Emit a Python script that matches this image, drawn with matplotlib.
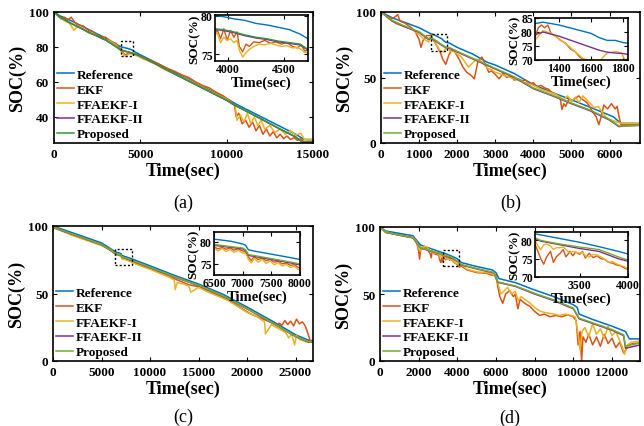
import matplotlib
matplotlib.use("Agg")
import matplotlib.pyplot as plt
from matplotlib.patches import Rectangle

plt.rcParams['font.family'] = ['Liberation Serif', 'DejaVu Serif']
plt.rcParams['font.weight'] = 'bold'

# ---------------- data ----------------
labels = ['Reference', 'EKF', 'FFAEKF-I', 'FFAEKF-II', 'Proposed']
colors = ['#0072BD', '#D95319', '#EDB120', '#7E2F8E', '#77AC30']

# panel (a)
ta_ref = [0, 300, 1000, 2000, 3000, 3880, 4200, 4500, 4720, 5000, 6000, 7000, 8000, 9000,
          10000, 10500, 11000, 12000, 13000, 14000, 14500, 15000]
ref_a = [100, 98, 95, 90, 85, 80, 79.3, 78.4, 77, 75.5, 70.5, 65.5, 60.5, 55.5,
         50.5, 47.5, 45, 40, 35, 30, 27, 27]
ta_prop = [0, 300, 1000, 2000, 3000, 3880, 4200, 4500, 4720, 5000, 6000, 7000, 8000, 9000,
           10000, 10500, 11000, 12000, 13000, 14000, 14400, 15000]
prop_a = [100, 97.5, 93.5, 88.5, 84, 78.3, 77.4, 76.6, 76, 74.8, 69.8, 64.5, 59.5, 54.5,
          49.5, 46.5, 44, 38.8, 33.5, 28.5, 25.5, 25.5]
ff2_a = [100, 97.4, 93.4, 88.4, 83.9, 78.2, 77.3, 76.5, 75.9, 74.7, 69.7, 64.4, 59.4, 54.4,
         49.4, 46.4, 43.9, 38.7, 33.4, 28.4, 25.4, 25.4]
ta_ekf = [0, 200, 400, 600, 800, 1000, 1200, 1400, 1700, 2000, 2300, 2600, 3000, 3300, 3600,
          3880, 4120, 4400, 4720, 5000, 5400, 5800, 6200, 6600, 7000, 7400, 7800, 8200, 8600,
          9000, 9400, 9800, 10200, 10450, 10550, 10700, 10900, 11100, 11300, 11500, 11700,
          11900, 12100, 12300, 12500, 12700, 12900, 13100, 13300, 13500, 13700, 13900, 14100,
          14300, 14500, 14700, 15000]
ekf_a = [100, 98.5, 96, 97, 95.5, 97, 94, 92.5, 92, 89.5, 88.5, 86, 85.5, 83, 82,
         78, 75.5, 76.5, 75.5, 75, 73, 71.5, 69.5, 67.5, 66, 64, 62.5, 60, 58,
         56.5, 54, 52, 49, 47, 40, 42, 36, 38, 34, 37, 32,
         35, 30, 33, 29, 31.5, 28, 30, 27.5, 29, 27, 28, 26.5,
         27.5, 25.5, 26, 26]
ta_ff1 = [0, 300, 600, 900, 1150, 1400, 1700, 2000, 2400, 2800, 3200, 3600, 3880, 4120, 4400,
          4720, 5200, 5800, 6400, 7000, 7600, 8200, 8800, 9400, 10000, 10500, 10600, 10800,
          11000, 11200, 11400, 11600, 11800, 12000, 12200, 12500, 12800, 13100, 13400, 13700,
          14000, 14300, 14500, 15000]
ff1_a = [100, 97, 95, 93.5, 89.5, 92, 90.5, 88, 87, 84.5, 83.5, 81, 77.5, 74.6, 76.2,
         75.2, 73, 70.5, 67, 64.5, 62, 59, 56, 53, 50, 46, 38, 41,
         37, 42, 36, 40, 35, 38, 33, 35, 31, 33, 30, 32,
         29.5, 30.5, 27, 27]
# inset (a)
ia_t = [3880, 3950, 4050, 4150, 4250, 4350, 4450, 4550, 4650, 4720]
ia_ref = [80, 79.9, 79.6, 79.4, 79.0, 78.8, 78.5, 78.2, 77.6, 77.0]
ia_prop = [78.3, 78.2, 77.9, 77.5, 77.2, 77.0, 76.7, 76.5, 76.3, 75.6]
ia_ff2 = [78.2, 78.1, 77.8, 77.4, 77.1, 76.9, 76.6, 76.4, 76.2, 75.5]
ia_t_ekf = [3880, 3900, 3930, 3960, 3990, 4020, 4050, 4080, 4100, 4130, 4160, 4190, 4230,
            4280, 4330, 4380, 4430, 4480, 4530, 4580, 4620, 4660, 4690, 4720]
ia_ekf = [77.5, 78.2, 77.0, 78.3, 76.8, 78.1, 77.2, 77.9, 76.0, 75.3, 76.3, 76.0, 76.6,
          76.5, 76.8, 76.4, 76.6, 76.3, 76.5, 76.0, 75.8, 76.2, 75.4, 75.5]
ia_ff1 = [77.5, 77.8, 76.5, 77.2, 76.8, 77.0, 76.5, 76.8, 75.5, 74.6, 75.2, 75.6, 76.0,
          76.3, 76.2, 76.4, 76.2, 76.0, 76.1, 75.8, 75.9, 75.6, 75.2, 75.2]

# panel (b)
tb_ref = [0, 300, 630, 1000, 1300, 1400, 1500, 1600, 1650, 1700, 1800, 2000, 2400, 2800,
          3000, 3500, 4000, 4500, 5000, 5600, 6100, 6300, 6800]
ref_b = [100, 95.5, 92, 88, 83.5, 82.5, 81, 79.5, 78, 77, 76.2, 73, 68, 61.5,
         59.5, 53, 44.5, 38.5, 33, 26, 20, 15, 15]
tb_prop = [0, 300, 600, 1000, 1250, 1300, 1400, 1500, 1600, 1700, 1800, 2000, 2500, 3000,
           3500, 4000, 4500, 5000, 5500, 6000, 6250, 6350, 6800]
prop_b = [100, 93.5, 89.5, 85, 79.5, 80.5, 79, 77, 75, 73.3, 72.8, 70, 63.5, 57,
          50.5, 42, 36.5, 30.5, 25, 18, 13, 13, 13.5]
ff2_b = [100, 93, 89, 84.5, 79, 80, 78.5, 76.5, 74.5, 72.8, 72.3, 69.5, 63, 56.5,
         50, 41.5, 36, 30, 24.5, 17.5, 12.5, 13, 13.5]
tb_ekf = [0, 100, 200, 300, 400, 440, 500, 600, 700, 800, 900, 1000, 1050, 1100, 1200, 1280,
          1320, 1350, 1400, 1450, 1480, 1520, 1560, 1620, 1700, 1780, 1860, 1950, 2050, 2150,
          2250, 2350, 2450, 2500, 2550, 2650, 2740, 2830, 2900, 3000, 3100, 3200, 3300, 3400,
          3500, 3600, 3700, 3800, 3900, 4000, 4100, 4200, 4300, 4400, 4500, 4600, 4700, 4750,
          4800, 4850, 4930, 5000, 5100, 5190, 5300, 5400, 5460, 5550, 5650, 5720, 5780, 5850,
          5950, 6050, 6150, 6200, 6250, 6300, 6800]
ekf_b = [100, 98, 96, 95, 97, 98, 93, 92, 90, 88, 85, 79, 73, 78, 82, 82,
         82.5, 79.5, 77.5, 75, 73.5, 71, 69, 64, 60, 67, 71.6, 69, 64, 58,
         54, 52, 49, 56, 63, 65.6, 60, 54, 55, 52.4, 49, 53, 50, 51,
         48, 49, 47.6, 48, 45, 46, 43, 44, 42, 41, 38, 37, 35, 25.6,
         30, 28, 33.5, 32, 34, 36, 33, 31, 28.7, 24, 20, 14, 20, 29,
         26, 30, 26, 28, 20, 14, 14.5]
tb_ff1 = [0, 200, 400, 600, 800, 1000, 1100, 1250, 1300, 1350, 1400, 1450, 1500, 1550, 1580,
          1650, 1700, 1750, 1790, 1810, 1900, 2000, 2100, 2200, 2300, 2400, 2500, 2600, 2700,
          2800, 2900, 3000, 3200, 3400, 3600, 3800, 4000, 4200, 4400, 4600, 4800, 4900, 5000,
          5100, 5200, 5300, 5400, 5500, 5600, 5700, 5800, 5900, 6000, 6100, 6200, 6300, 6800]
ff1_b = [100, 95, 91, 89, 87, 83, 80, 77, 80.5, 79.5, 77.5, 75.5, 73, 70.5, 70,
         69.5, 72.5, 73, 72.5, 70, 70, 68, 66, 62, 58, 61, 64, 63, 60,
         57, 56, 54, 52, 50, 48, 46, 44, 41, 39, 37, 33, 36, 32,
         35, 31, 36, 33, 30, 27, 28, 24, 20, 18, 17, 16, 15, 15]
# inset (b)
ib_t = [1250, 1300, 1400, 1500, 1600, 1650, 1700, 1750, 1800, 1830]
ib_ref = [83, 83.5, 82.5, 81, 79.5, 78, 77, 77, 76.2, 76]
ib_ff2 = [79, 80, 78.5, 76.5, 74.5, 73.5, 72.8, 72.5, 72.3, 72]
ib_t_ekf = [1250, 1270, 1290, 1310, 1330, 1350, 1380, 1410, 1440, 1470, 1500, 1530, 1560,
            1600, 1650, 1700, 1760, 1800, 1830]
ib_ekf = [78, 81.5, 82.5, 81.5, 82.5, 79.5, 78.5, 77, 76, 74, 73, 71, 70, 68, 64, 61, 66, 69, 70.5]
ib_t_ff1 = [1250, 1300, 1350, 1400, 1450, 1500, 1550, 1580, 1620, 1650, 1700, 1750, 1790,
            1810, 1830]
ib_ff1 = [77, 80.5, 79.5, 77.5, 75.5, 73, 70.5, 70, 70, 69.5, 72.5, 73, 72.5, 70, 70.5]

# panel (c)
tc_ref = [0, 2000, 5000, 6500, 6800, 7000, 7050, 7100, 7200, 7500, 7800, 8000, 10000, 12500,
          15000, 17500, 20000, 22500, 25000, 26300, 26800]
ref_c = [100, 95, 87.5, 80.6, 80.1, 79.5, 79.2, 78.2, 77.9, 77.2, 76.5, 76, 70.5, 63.5,
         57, 49.5, 40, 30, 19.5, 15.5, 15]
prop_c = [99, 94, 86.3, 79.4, 78.9, 78.6, 78.2, 77.1, 76.9, 76.2, 75.4, 75, 69.3, 62.5,
          56, 48.3, 38.8, 28.8, 18.3, 14.3, 14.2]
ff2_c = [98.8, 93.8, 86.1, 79.2, 78.7, 78.4, 78.0, 76.9, 76.7, 76.0, 75.2, 74.8, 69.1, 62.3,
         55.8, 48.1, 38.6, 28.6, 18.1, 14.1, 14.0]
tc_ekf = [0, 1000, 2000, 3000, 4000, 5000, 6000, 6500, 7000, 7100, 7150, 7200, 7400, 7600,
          8000, 9000, 10000, 11000, 12000, 13000, 14000, 15000, 16000, 17000, 18000, 19000,
          20000, 20500, 21000, 22000, 22500, 23000, 23300, 23600, 23900, 24200, 24500, 24800,
          25100, 25400, 25700, 26000, 26200, 26500, 26800]
ekf_c = [100, 96.5, 93.5, 91, 88.5, 86, 82.5, 78.8, 78, 76.5, 75.8, 76.4, 75.7, 75.1,
         74, 71, 68.5, 65.5, 62.5, 59.5, 56.5, 55, 52, 48.5, 45.5, 41,
         36.5, 34.5, 33, 30, 28.5, 27, 28, 26.5, 30, 27, 29.5, 26,
         31, 27.5, 29, 26, 22, 15, 14.5]
tc_ff1 = [0, 1000, 2000, 3000, 4000, 5000, 6000, 6500, 7000, 7100, 7150, 7200, 7500, 8000,
          9000, 10000, 11000, 12000, 12500, 12600, 12800, 13500, 14000, 14200, 15000, 16000,
          17000, 18000, 19000, 20000, 21000, 21800, 21900, 22500, 23000, 23500, 24000, 24300,
          24600, 24900, 25100, 25400, 25800, 26200, 26800]
ff1_c = [99.5, 96, 93, 90.5, 88, 85.5, 82, 78.6, 77.8, 76, 75.2, 76, 75, 73.6,
         70.5, 68, 65, 62, 60, 53, 58, 57, 55.5, 51, 54.5, 51,
         48, 45, 40.5, 36, 33, 29, 20, 27, 25, 23, 21, 17,
         20, 12, 19, 16, 15, 14, 14]
# inset (c)
ic_t = [6500, 6800, 7000, 7050, 7100, 7200, 7500, 7800, 8000]
ic_ref = [80.6, 80.1, 79.5, 79.2, 78.2, 77.9, 77.2, 76.5, 76.0]
ic_prop = [79.4, 78.9, 78.6, 78.2, 77.1, 76.9, 76.2, 75.5, 75.0]
ic_ff2 = [79.2, 78.7, 78.4, 78.0, 76.9, 76.7, 76.0, 75.3, 74.8]
ic_t_n = [6500, 6570, 6640, 6710, 6780, 6850, 6920, 6990, 7060, 7100, 7150, 7200, 7270,
          7340, 7410, 7480, 7550, 7620, 7690, 7760, 7830, 7900, 7960, 8000]
ic_ekf = [78.8, 78.4, 78.7, 78.3, 78.6, 78.1, 78.4, 78.0, 77.6, 76.5, 75.8, 76.6, 76.0,
          76.3, 75.7, 76.0, 75.4, 75.6, 75.0, 75.2, 74.7, 74.8, 74.3, 74.0]
ic_ff1 = [78.6, 77.9, 78.5, 77.8, 78.3, 77.6, 78.1, 77.5, 77.3, 76.0, 75.2, 76.3, 75.4,
          76.0, 75.1, 75.7, 74.8, 75.3, 74.5, 74.9, 74.2, 74.5, 73.8, 73.6]

# panel (d)
td_ref = [0, 300, 1700, 1900, 2100, 2800, 3040, 3300, 3500, 3700, 3900, 4000, 4200, 5000,
          5800, 6000, 6150, 7000, 8000, 9000, 10000, 10200, 10300, 11000, 12000, 12700,
          12900, 13450]
ref_d = [100, 97, 93.5, 90, 86.5, 83, 81.8, 80.5, 79.5, 78.3, 77, 76.3, 73.5, 70.5,
         68, 66, 61.5, 58.5, 53, 48, 42, 40, 35, 31, 26, 22,
         16.5, 16.5]
td_prop = [0, 300, 1700, 1900, 2100, 2800, 3040, 3300, 3500, 3700, 3900, 4000, 4200, 5000,
           5900, 6100, 7000, 8000, 9000, 10000, 10300, 11000, 12000, 12600, 12700, 13450]
prop_d = [100, 96, 92, 88.5, 84.5, 81.5, 80.7, 79, 78.2, 77.5, 75.5, 74.6, 72, 69,
          66, 59, 56, 50.5, 45.5, 39.5, 32, 28.5, 23.5, 19.5, 11, 13.5]
ff2_d = [100, 96, 92, 88.3, 84.3, 81.2, 80.5, 78.8, 77.8, 77, 75, 74.3, 71.7, 68.7,
         65.7, 58.7, 55.7, 50, 45, 39, 31.5, 28, 23, 19, 9.5, 12]
td_ekf = [0, 300, 800, 1300, 1700, 1900, 2000, 2050, 2100, 2200, 2400, 2600, 2650, 2700,
          2800, 3040, 3100, 3150, 3200, 3250, 3300, 3350, 3400, 3450, 3500, 3550, 3600, 3650,
          3700, 3750, 3800, 3850, 3900, 3950, 4000, 4100, 4200, 4500, 5000, 5500, 5800, 6000,
          6100, 6200, 6350, 6500, 6700, 6900, 7000, 7130, 7250, 7400, 7600, 7740, 8000, 8260,
          8500, 8800, 9100, 9400, 9700, 10000, 10150, 10250, 10350, 10430, 10500, 10650,
          10800, 11000, 11200, 11400, 11600, 11800, 12000, 12200, 12400, 12600, 12700, 12850,
          13100, 13450]
ekf_d = [100, 96, 94.5, 93, 92, 88, 82, 76, 83, 84, 84.5, 80, 77, 82,
         80, 79, 75, 73.5, 77, 74, 76.5, 77.5, 75.5, 77, 76.2, 77, 75.2, 76.5,
         75.5, 75, 74, 73.3, 73, 72.5, 72, 70, 71, 68, 66, 65.5, 64, 64,
         55, 48, 43, 50, 52.5, 48, 50, 39, 46, 44, 42, 41, 37, 34,
         35, 33, 34, 33, 34.5, 33, 30, 12, 22, 0, 18, 14,
         20, 12, 18, 11, 20, 13, 17, 10, 14, 6, 8, 12,
         13, 13.5]
td_ff1 = [0, 300, 800, 1300, 1700, 1900, 2000, 2100, 2200, 2400, 2600, 2700, 2800, 3040,
          3100, 3150, 3200, 3250, 3300, 3350, 3400, 3500, 3600, 3700, 3800, 3900, 4000, 4100,
          4200, 4500, 5000, 5500, 5800, 5950, 6100, 6250, 6400, 6600, 6800, 7000, 7150, 7300,
          7500, 7700, 8000, 8300, 8600, 9000, 9300, 9600, 9900, 10100, 10250, 10350, 10450,
          10600, 10800, 11000, 11200, 11400, 11600, 11800, 12000, 12200, 12400, 12550, 12650,
          12800, 13000, 13450]
ff1_d = [100, 96.5, 94.5, 93, 92.5, 89, 84, 82, 85, 85.5, 82, 81, 80.5, 80,
         77.5, 78.8, 78.5, 77.5, 78, 78.2, 76.5, 76.5, 75.5, 76, 74, 73.2, 72.3, 71,
         72, 68.5, 66.5, 66, 65, 63, 58, 50, 52, 55, 50, 52, 45, 48,
         46, 44, 40, 37, 36, 35, 34, 35, 34, 33, 20, 8, 22,
         25, 18, 28, 20, 24, 17, 26, 19, 22, 15, 10, 5,
         12, 14, 15]
# inset (d)
id_t = [3040, 3100, 3300, 3500, 3700, 3900, 4000]
id_ref = [81.8, 81.5, 80.5, 79.5, 78.3, 77.0, 76.3]
id_prop = [80.7, 80.0, 79.0, 78.2, 77.5, 75.5, 74.6]
id_ff2 = [80.5, 79.8, 78.8, 77.8, 77.0, 75.0, 74.3]
id_t_n = [3040, 3070, 3100, 3130, 3160, 3200, 3230, 3260, 3300, 3330, 3360, 3400, 3430,
          3460, 3500, 3530, 3560, 3600, 3640, 3680, 3720, 3760, 3800, 3840, 3880, 3920,
          3960, 4000]
id_ekf = [79, 77, 75, 73.5, 75.5, 77, 74, 75.5, 76.5, 77.5, 75.5, 77, 75.8, 76.8,
          76.2, 77, 75.2, 76.5, 75.3, 75.8, 75, 74.8, 74, 73.8, 73.3, 73.1, 72.5, 72]
id_ff1 = [80, 78.5, 77.5, 78.8, 79, 78.5, 77.5, 78, 78, 78.2, 77.5, 76.5, 77, 76.8,
          76.5, 76.8, 75.8, 75.5, 76.2, 76, 75.5, 74.8, 74, 74.2, 73.6, 73.2, 72.8, 72.3]

# ---------------- drawing ----------------
W, H = 644, 427


def rect(x0, y0, x1, y1):
    return [x0 / W, 1 - y1 / H, (x1 - x0) / W, (y1 - y0) / H]


def style_axes(ax, size):
    ax.tick_params(direction='in', top=True, right=True, labelsize=size, width=0.8, length=3)
    for s in ax.spines.values():
        s.set_linewidth(1.2)
    for lb in ax.get_xticklabels() + ax.get_yticklabels():
        lb.set_fontweight('bold')


fig = plt.figure(figsize=(W / 100, H / 100), dpi=100)

panels = [
    dict(main=rect(54, 13, 313, 144), ins=rect(215, 16, 308, 62), cap='(a)', cap_xy=(183, 203),
         series=[(ta_ref, ref_a), (ta_ekf, ekf_a), (ta_ff1, ff1_a), (ta_prop, ff2_a), (ta_prop, prop_a)],
         inset=[(ia_t, ia_ref), (ia_t_ekf, ia_ekf), (ia_t_ekf, ia_ff1), (ia_t, ia_ff2), (ia_t, ia_prop)],
         xlim=(0, 15000), ylim=(25, 100), xt=[0, 5000, 10000, 15000], yt=[40, 60, 80, 100],
         ixlim=(3880, 4720), iylim=(74.1, 80.1), ixt=[4000, 4500], iyt=[75, 80],
         box=(3870, 4580, 75, 83.5), green='#2E9A36'),
    dict(main=rect(381, 13, 640, 144), ins=rect(535, 19, 628, 61), cap='(b)', cap_xy=(511, 203),
         series=[(tb_ref, ref_b), (tb_ekf, ekf_b), (tb_ff1, ff1_b), (tb_prop, ff2_b), (tb_prop, prop_b)],
         inset=[(ib_t, ib_ref), (ib_t_ekf, ib_ekf), (ib_t_ff1, ib_ff1), (ib_t, ib_ff2), None],
         xlim=(0, 6800), ylim=(0, 100), xt=list(range(0, 7000, 1000)), yt=[0, 50, 100],
         ixlim=(1250, 1830), iylim=(70, 85), ixt=[1400, 1600, 1800], iyt=[70, 75, 80, 85],
         box=(1316, 1728, 70, 83), green='#77AC30'),
    dict(main=rect(53, 227, 313, 362), ins=rect(214, 233, 300, 276), cap='(c)', cap_xy=(183, 417),
         series=[(tc_ref, ref_c), (tc_ekf, ekf_c), (tc_ff1, ff1_c), (tc_ref, ff2_c), (tc_ref, prop_c)],
         inset=[(ic_t, ic_ref), (ic_t_n, ic_ekf), (ic_t_n, ic_ff1), (ic_t, ic_ff2), (ic_t, ic_prop)],
         xlim=(0, 26800), ylim=(0, 100), xt=list(range(0, 30000, 5000)), yt=[0, 50, 100],
         ixlim=(6500, 8000), iylim=(72.5, 82.2), ixt=[6500, 7000, 7500, 8000], iyt=[75, 80],
         box=(6440, 8150, 71.2, 82.6), green='#77AC30'),
    dict(main=rect(380, 228, 640, 362), ins=rect(535, 233, 628, 278), cap='(d)', cap_xy=(510, 418),
         series=[(td_ref, ref_d), (td_ekf, ekf_d), (td_ff1, ff1_d), (td_prop, ff2_d), (td_prop, prop_d)],
         inset=[(id_t, id_ref), (id_t_n, id_ekf), (id_t_n, id_ff1), (id_t, id_ff2), (id_t, id_prop)],
         xlim=(0, 13450), ylim=(0, 100), xt=list(range(0, 14000, 2000)), yt=[0, 50, 100],
         ixlim=(3040, 4000), iylim=(70, 82.3), ixt=[3500, 4000], iyt=[70, 75, 80],
         box=(3250, 4090, 71, 82.5), green='#77AC30'),
]

for p in panels:
    cols = colors[:4] + [p['green']]
    ax = fig.add_axes(p['main'])
    handles = []
    for (t, v), c, lab in zip(p['series'], cols, labels):
        h, = ax.plot(t, v, color=c, lw=1.1, label=lab)
        handles.append(h)
    ax.set_xlim(*p['xlim'])
    ax.set_ylim(*p['ylim'])
    ax.set_xticks(p['xt'])
    ax.set_yticks(p['yt'])
    ax.set_xlabel('Time(sec)', fontsize=13, fontweight='bold', labelpad=1)
    ax.set_ylabel('SOC(%)', fontsize=13, fontweight='bold', labelpad=2)
    style_axes(ax, 9.5)
    x0, x1, y0, y1 = p['box']
    ax.add_patch(Rectangle((x0, y0), x1 - x0, y1 - y0, fill=False, ls=(0, (1.5, 1.5)),
                           lw=1.0, ec='black', zorder=5))
    ax.legend(handles=handles, loc='lower left', frameon=False,
              labelspacing=0.2, handlelength=1.3, handletextpad=0.2,
              borderaxespad=0.1, borderpad=0.1, prop={'weight': 'bold', 'size': 9.5})
    cx, cy = p['cap_xy']
    fig.text(cx / W, 1 - cy / H, p['cap'], ha='center', va='center',
             fontsize=13, fontweight='normal')
    # zoomed inset
    ia = fig.add_axes(p['ins'])
    for s, c in zip(p['inset'], cols):
        if s is not None:
            ia.plot(s[0], s[1], color=c, lw=1.0)
    ia.set_xlim(*p['ixlim'])
    ia.set_ylim(*p['iylim'])
    ia.set_xticks(p['ixt'])
    ia.set_yticks(p['iyt'])
    ia.set_xlabel('Time(sec)', fontsize=10.5, fontweight='bold', labelpad=0)
    ia.set_ylabel('SOC(%)', fontsize=9.5, fontweight='bold', labelpad=0)
    style_axes(ia, 8.5)
    ia.tick_params(pad=1.5)

fig.savefig('out.png', dpi=100)
